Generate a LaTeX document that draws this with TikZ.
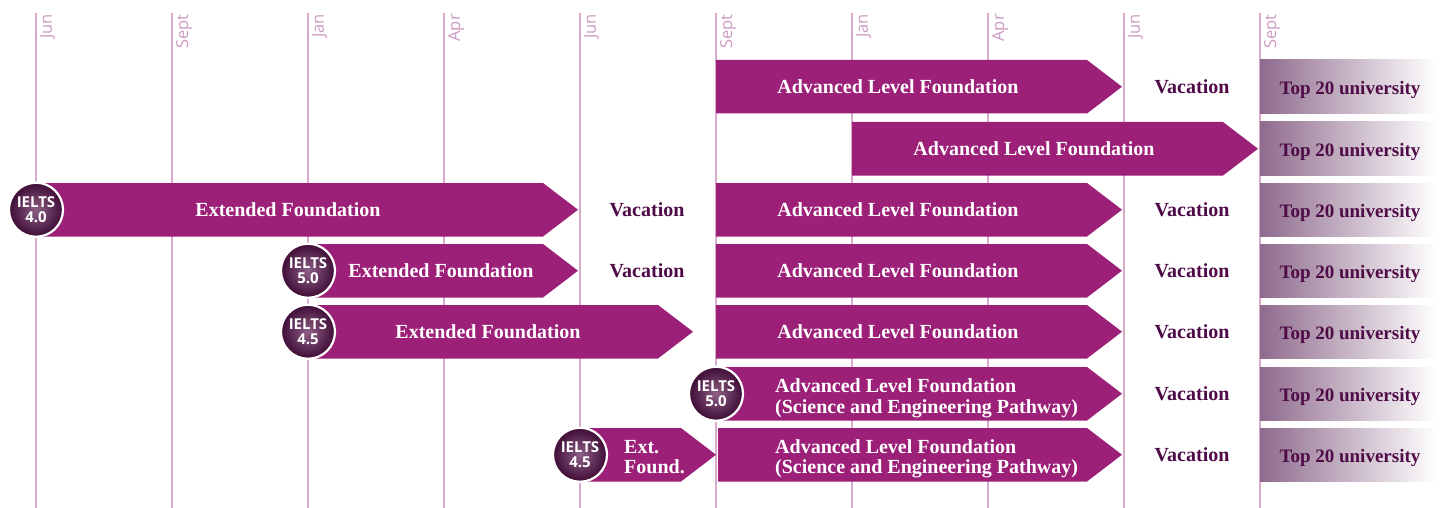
\documentclass[tikz,border=0pt]{standalone}
\usepackage{fontspec}
\setmainfont{Liberation Serif}
\setsansfont{Open Sans}
\definecolor{barc}{HTML}{9C1F78}
\definecolor{darkp}{HTML}{4E0B47}
\definecolor{gridc}{HTML}{D8ABCD}
\definecolor{labc}{HTML}{CC9AC1}
\definecolor{topl}{HTML}{8F6B8D}
\definecolor{cin}{HTML}{8E5F86}
\definecolor{cout}{HTML}{3E0C35}
\newcommand\pbar[3]{\fill[barc] (#1,#3-26.75) -- (#2-35,#3-26.75) -- (#2,#3) -- (#2-35,#3+26.75) -- (#1,#3+26.75) -- cycle;}
\newcommand\topbox[1]{\shade[left color=topl, right color=white] (1260,#1-26.75) rectangle (1436,#1+26.75);}
\begin{document}
\begin{tikzpicture}[x=1pt,y=-1pt,
  gridline/.style={gridc, line width=1.2pt},
  monthlab/.style={rotate=90, anchor=north east, inner sep=0pt, text=labc, font=\sffamily\fontsize{16.5}{17}\selectfont},
  bartext/.style={anchor=base, inner sep=0pt, text=white, font=\bfseries\fontsize{20}{21}\selectfont},
  bartextl/.style={bartext, anchor=base west},
  vac/.style={anchor=base, inner sep=0pt, text=darkp, font=\bfseries\fontsize{20}{21}\selectfont},
  toptext/.style={anchor=base, inner sep=0pt, text=darkp, font=\bfseries\fontsize{19}{20}\selectfont},
  ielts/.style={circle, minimum size=54pt, inner sep=0pt, draw=white, line width=2.2pt,
    inner color=cin, outer color=cout, text=white, align=center,
    font=\sffamily\bfseries\fontsize{15}{14.5}\selectfont}
]
\useasboundingbox (0,0) rectangle (1448,508);
% grid
\foreach \i/\m in {0/Jun,1/Sept,2/Jan,3/Apr,4/Jun,5/Sept,6/Jan,7/Apr,8/Jun,9/Sept}{
  \coordinate (gt\i) at (36+136*\i,13);
  \coordinate (gb\i) at (36+136*\i,508);
  \draw[gridline] (gt\i) -- (gb\i);
  \node[monthlab] (m\i) at (40+136*\i,14) {\m};
}
% row 1
\pbar{716}{1122}{86.75}
\node[bartext] (a1) at (898,86.75+6.8) {Advanced Level Foundation};
\node[vac] (v1) at (1192,86.75+6.6) {Vacation};
\topbox{86.75}
\node[toptext] (t1) at (1350,86.75+7.5) {Top 20 university};
% row 2
\pbar{852}{1258}{148.75}
\node[bartext] (a2) at (1034,148.75+6.8) {Advanced Level Foundation};
\topbox{148.75}
\node[toptext] (t2) at (1350,148.75+7.5) {Top 20 university};
% row 3
\pbar{36}{578}{209.75}
\node[bartext] (e3) at (288,209.75+6.8) {Extended Foundation};
\node[vac] (w3) at (647,209.75+6.6) {Vacation};
\pbar{716}{1122}{209.75}
\node[bartext] (a3) at (898,209.75+6.8) {Advanced Level Foundation};
\node[vac] (v3) at (1192,209.75+6.6) {Vacation};
\topbox{209.75}
\node[toptext] (t3) at (1350,209.75+7.5) {Top 20 university};
\node[ielts] (c3) at (36,209.75) {IELTS\\4.0};
% row 4
\pbar{308}{578}{270.75}
\node[bartext] (e4) at (441,270.75+6.8) {Extended Foundation};
\node[vac] (w4) at (647,270.75+6.6) {Vacation};
\pbar{716}{1122}{270.75}
\node[bartext] (a4) at (898,270.75+6.8) {Advanced Level Foundation};
\node[vac] (v4) at (1192,270.75+6.6) {Vacation};
\topbox{270.75}
\node[toptext] (t4) at (1350,270.75+7.5) {Top 20 university};
\node[ielts] (c4) at (308,270.75) {IELTS\\5.0};
% row 5
\pbar{308}{693}{331.75}
\node[bartext] (e5) at (488,331.75+6.8) {Extended Foundation};
\pbar{716}{1122}{331.75}
\node[bartext] (a5) at (898,331.75+6.8) {Advanced Level Foundation};
\node[vac] (v5) at (1192,331.75+6.6) {Vacation};
\topbox{331.75}
\node[toptext] (t5) at (1350,331.75+7.5) {Top 20 university};
\node[ielts] (c5) at (308,331.75) {IELTS\\4.5};
% row 6
\pbar{716}{1122}{393.75}
\node[bartextl] (a6a) at (775,393.75-1.5) {Advanced Level Foundation};
\node[bartextl] (a6b) at (775,393.75+19.5) {(Science and Engineering Pathway)};
\node[vac] (v6) at (1192,393.75+6.6) {Vacation};
\topbox{393.75}
\node[toptext] (t6) at (1350,393.75+7.5) {Top 20 university};
\node[ielts] (c6) at (716,393.75) {IELTS\\5.0};
% row 7
\pbar{580}{716}{454.75}
\node[bartextl] (e7a) at (624,454.75-1.5) {Ext.};
\node[bartextl] (e7b) at (624,454.75+18.5) {Found.};
\pbar{718}{1122}{454.75}
\node[bartextl] (a7a) at (775,454.75-1.5) {Advanced Level Foundation};
\node[bartextl] (a7b) at (775,454.75+18.5) {(Science and Engineering Pathway)};
\node[vac] (v7) at (1192,454.75+6.6) {Vacation};
\topbox{454.75}
\node[toptext] (t7) at (1350,454.75+7.5) {Top 20 university};
\node[ielts] (c7) at (580,454.75) {IELTS\\4.5};
\end{tikzpicture}
\end{document}
